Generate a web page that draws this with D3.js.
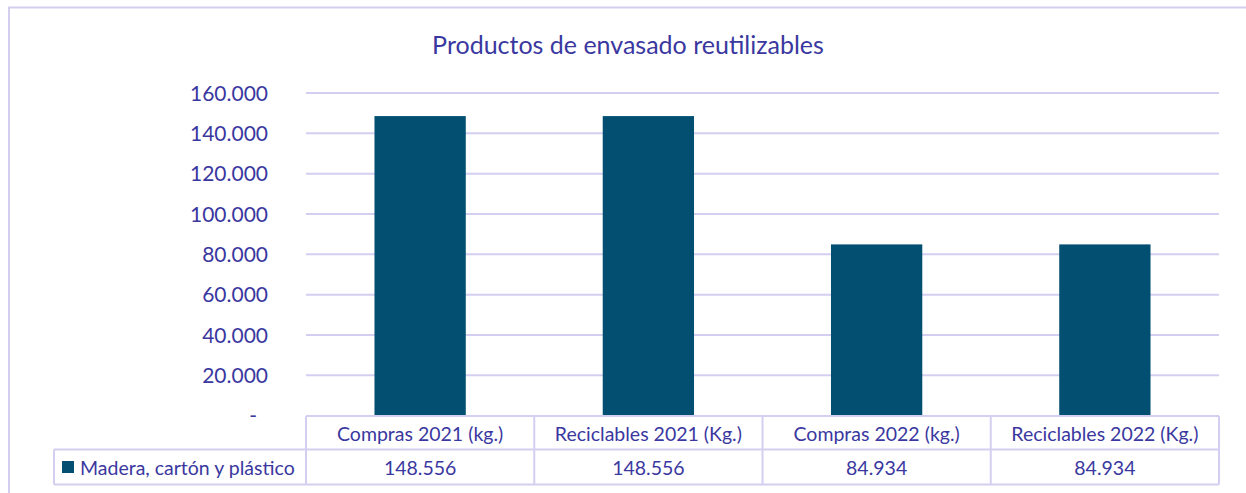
<!DOCTYPE html>
<html>
<head>
<meta charset="utf-8">
<script src="https://cdn.jsdelivr.net/npm/d3@7"></script>
<style>
  body { margin: 0; background: #fff; }
  text { font-family: Lato, "Open Sans", sans-serif; fill: #3a38a0; }
</style>
</head>
<body>
<svg id="chart" width="1246" height="493"></svg>
<script>
// chart data
var categories = ['Compras 2021 (kg.)', 'Reciclables 2021 (Kg.)', 'Compras 2022 (kg.)', 'Reciclables 2022 (Kg.)'];
var seriesName = 'Madera, cartón y plástico';
var values = [148556, 148556, 84934, 84934];
var yTicks = [0, 20000, 40000, 60000, 80000, 100000, 120000, 140000, 160000];

var gridColor = '#d3cff0',
    barColor = '#034f72';

var svg = d3.select('#chart');

var locale = d3.formatLocale({decimal: ',', thousands: '.', grouping: [3], currency: ['', '']});
var fmt = locale.format(',.0f');

var margin = {left: 306, right: 1219, top: 93, bottom: 416};

var x = d3.scaleBand()
    .domain(categories)
    .range([margin.left, margin.right])
    .paddingInner(0)
    .paddingOuter(0);

var y = d3.scaleLinear()
    .domain([0, 160000])
    .range([margin.bottom - 0.3, margin.top]);

// outer frame
svg.append('rect')
    .attr('x', 9).attr('y', 7.5)
    .attr('width', 1260).attr('height', 500)
    .attr('fill', 'none')
    .attr('stroke', gridColor)
    .attr('stroke-width', 2);

// title
svg.append('text')
    .attr('x', 628).attr('y', 54)
    .attr('text-anchor', 'middle')
    .style('font-size', '25px')
    .text('Productos de envasado reutilizables');

// grid lines
svg.append('g')
    .selectAll('line')
    .data(yTicks.filter(d => d > 0))
    .enter().append('line')
    .attr('x1', margin.left).attr('x2', margin.right)
    .attr('y1', d => y(d)).attr('y2', d => y(d))
    .attr('stroke', gridColor)
    .attr('stroke-width', 2);

// y axis labels
svg.append('g')
    .selectAll('text')
    .data(yTicks)
    .enter().append('text')
    .attr('x', d => d === 0 ? 257 : 268)
    .attr('y', d => y(d) + 7.5)
    .attr('text-anchor', 'end')
    .style('font-size', '21px')
    .text(d => d === 0 ? '-' : fmt(d));

// bars
var bw = x.bandwidth() * 0.4;
svg.append('g')
    .selectAll('rect')
    .data(values)
    .enter().append('rect')
    .attr('x', (d, i) => x(categories[i]) + (x.bandwidth() - bw) / 2)
    .attr('y', d => y(d))
    .attr('width', bw)
    .attr('height', d => y(0) - y(d))
    .attr('fill', barColor);

// data table
var rowTop = 416, rowMid = 449.5, rowBot = 484.5, legLeft = 54;
var table = svg.append('g')
    .attr('stroke', gridColor)
    .attr('stroke-width', 2)
    .attr('fill', 'none');

table.append('line').attr('x1', margin.left).attr('x2', margin.right).attr('y1', rowTop).attr('y2', rowTop);
table.append('line').attr('x1', legLeft).attr('x2', margin.right).attr('y1', rowMid).attr('y2', rowMid);
table.append('line').attr('x1', legLeft).attr('x2', margin.right).attr('y1', rowBot).attr('y2', rowBot);
table.append('line').attr('x1', legLeft).attr('x2', legLeft).attr('y1', rowMid).attr('y2', rowBot);

table.selectAll('line.col')
    .data(categories.concat(['end']))
    .enter().append('line')
    .attr('class', 'col')
    .attr('x1', (d, i) => i < categories.length ? x(d) : margin.right)
    .attr('x2', (d, i) => i < categories.length ? x(d) : margin.right)
    .attr('y1', rowTop).attr('y2', rowBot);

svg.append('g')
    .selectAll('text')
    .data(categories)
    .enter().append('text')
    .attr('x', d => x(d) + x.bandwidth() / 2)
    .attr('y', rowMid - 9)
    .attr('text-anchor', 'middle')
    .style('font-size', '19.5px')
    .text(d => d);

svg.append('g')
    .selectAll('text')
    .data(values)
    .enter().append('text')
    .attr('x', (d, i) => x(categories[i]) + x.bandwidth() / 2)
    .attr('y', rowBot - 10)
    .attr('text-anchor', 'middle')
    .style('font-size', '19.5px')
    .text(d => fmt(d));

// legend key
svg.append('rect')
    .attr('x', 62).attr('y', 461)
    .attr('width', 12).attr('height', 12)
    .attr('fill', barColor);

svg.append('text')
    .attr('x', 80)
    .attr('y', rowBot - 10)
    .style('font-size', '19.5px')
    .text(seriesName);
</script>
</body>
</html>
